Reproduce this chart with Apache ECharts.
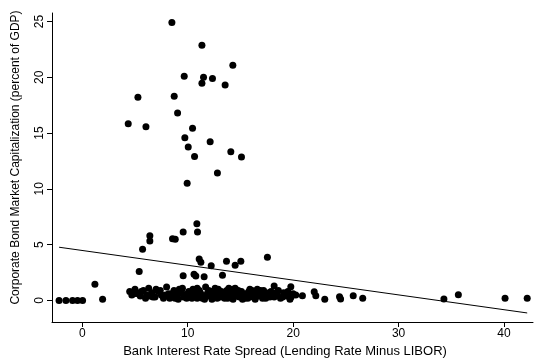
<!DOCTYPE html>
<html><head><meta charset="utf-8">
<script src="https://cdn.jsdelivr.net/npm/echarts@6/dist/echarts.min.js"></script>
<style>html,body{margin:0;padding:0;background:#fff}#c{width:536px;height:363px}</style>
</head><body><div id="c"></div>
<script>
// Bank interest rate spread (x) and corporate bond market capitalization (y)
const spread = [
 -2.2,-1.55,-0.92,-0.45,0.03,1.93,1.2,
 5.4,5.72,6.41,6.41,8.56,8.82,9.57,10.93,10.87,
 11.09,11.25,12.23,13.68,14.5,15.04,17.56,
 9.57,10.6,10.77,11.56,13.3,
 8.5,11.35,14.28,9.67,11.5,12.35,11.35,13.55,5.28,8.72,9.04,4.36,6.04,10.46,9.73,12.13,10.05,10.65,14.09,15.1,12.82,9.95,
 18.2,19.78,20.25,20.88,22.0,22.15,23.0,24.4,24.5,25.7,26.6,34.3,35.67,40.1,42.2,
 4.5,4.7,5.0,5.3,5.5,5.8,6.1,6.3,6.6,6.9,7.2,7.5,7.7,8.0,8.2,8.4,8.7,8.9,9.1,9.3,9.5,9.7,9.9,
 10.1,10.3,10.5,10.7,10.9,11.1,11.3,11.5,11.7,11.9,12.1,12.3,12.5,12.7,12.9,13.1,13.3,13.5,13.7,13.9,
 14.1,14.3,14.5,14.7,14.9,15.1,15.3,15.5,15.7,15.9,16.1,16.3,16.5,16.7,16.9,17.1,17.3,17.6,17.9,
 18.2,18.5,18.8,19.1,19.4,19.7,20.0,
 6.0,7.0,8.5,9.0,9.6,10.0,10.4,10.8,11.2,11.6,12.0,12.4,12.8,13.2,13.6,14.0,14.4,14.8,15.2,15.6,
 16.0,16.4,16.8,17.2,17.8,18.4,19.0,19.5,
 4.9,5.6,6.4,7.4,8.1,8.8,9.4,10.2,10.6,11.0,11.4,11.8,12.2,12.6,13.0,13.4,13.8,14.2,14.6,15.0,
 15.4,15.8,16.2,16.6,17.0,17.4,17.7,18.0,18.6,19.2,19.8,7.9,9.2,10.9,12.6,14.3,16.1,6.7,8.3,13.9
];
const bondCap = [
 0,0,0,0,0,0.1,1.45,
 2.6,4.6,5.8,5.33,5.54,5.48,6.14,6.14,6.88,
 3.72,3.42,3.12,3.51,3.15,3.51,3.87,
 2.22,2.35,2.2,2.13,2.25,
 24.9,22.87,21.07,20.09,20.0,19.88,19.46,19.31,18.2,18.3,16.8,15.84,15.57,15.43,14.59,14.23,13.75,12.89,13.33,12.86,11.42,10.5,
 1.3,1.24,0.49,0.43,0.79,0.43,0.1,0.34,0.13,0.43,0.2,0.13,0.52,0.2,0.2,
 0.8,0.5,1.0,0.6,0.4,0.9,0.5,1.1,0.7,0.3,0.8,0.5,0.2,1.2,0.6,0.3,0.9,0.4,0.1,0.7,1.1,0.5,0.2,
 0.8,0.4,1.0,0.6,0.2,0.9,0.5,0.3,1.2,0.7,0.4,0.1,0.8,0.5,1.0,0.3,0.6,0.2,0.9,0.4,
 0.7,0.1,1.1,0.5,0.3,0.8,0.4,0.6,0.2,1.0,0.5,0.3,0.7,0.4,0.9,0.2,0.6,0.4,0.8,
 0.3,0.5,0.2,0.7,0.4,0.1,0.6,
 0.2,1.0,0.6,0.5,0.3,0.6,0.2,0.4,0.7,0.1,0.9,0.6,0.2,0.8,0.5,0.3,0.6,0.9,0.1,0.5,
 0.7,0.1,0.6,0.9,0.3,0.7,0.3,0.8,
 0.6,0.8,0.4,0.9,0.4,0.2,0.8,0.3,0.9,0.7,0.2,0.5,0.8,0.3,0.7,0.5,0.2,0.9,0.4,0.7,
 0.2,0.8,0.3,1.0,0.5,0.2,0.7,0.5,0.9,0.5,0.3,0.5,1.0,1.1,1.1,1.0,0.9,0.3,0.2,1.1
];
// Fitted line endpoints
const fitX = [-2.2, 42.2];
const fitY = [4.77, -1.12];
const xTicks = [0, 10, 20, 30, 40];
const yTicks = [0, 5, 10, 15, 20, 25];

const points = spread.map((x, i) => [x, bondCap[i]]);
const fit = fitX.map((x, i) => [x, fitY[i]]);

const chart = echarts.init(document.getElementById('c'), null, {renderer: 'canvas'});
const font = 'Liberation Sans, Arial, sans-serif';
chart.setOption({
  animation: false,
  backgroundColor: '#fff',
  grid: {left: 52, top: 13, width: 481, height: 309, containLabel: false},
  xAxis: {
    type: 'value', min: -2.87, max: 42.75,
    name: 'Bank Interest Rate Spread (Lending Rate Minus LIBOR)',
    nameLocation: 'middle', nameGap: 21,
    nameTextStyle: {color: '#000', fontSize: 13, fontFamily: font, padding: [0, 15, 0, 0]},
    axisLine: {show: true, onZero: false, lineStyle: {color: '#000', width: 1}},
    axisTick: {show: true, length: 5, lineStyle: {color: '#000'}, customValues: xTicks},
    axisLabel: {color: '#000', fontSize: 12, fontFamily: font, margin: 6, customValues: xTicks},
    splitLine: {show: false}
  },
  yAxis: {
    type: 'value', min: -1.93, max: 25.76,
    name: 'Corporate Bond Market Capitalization (percent of GDP)',
    nameLocation: 'middle', nameGap: 30,
    nameTextStyle: {color: '#000', fontSize: 12, fontFamily: font, padding: [0, 0, 0, 20]},
    axisLine: {show: true, onZero: false, lineStyle: {color: '#000', width: 1}},
    axisTick: {show: true, length: 5, lineStyle: {color: '#000'}, customValues: yTicks},
    axisLabel: {color: '#000', fontSize: 12, fontFamily: font, rotate: 90, margin: 6, customValues: yTicks},
    splitLine: {show: false}
  },
  series: [
    {type: 'scatter', data: points, symbol: 'circle', symbolSize: 7,
     itemStyle: {color: '#000', opacity: 1}, z: 3},
    {type: 'line', data: fit, symbol: 'none', lineStyle: {color: '#000', width: 1}, z: 2}
  ]
});
</script></body></html>
